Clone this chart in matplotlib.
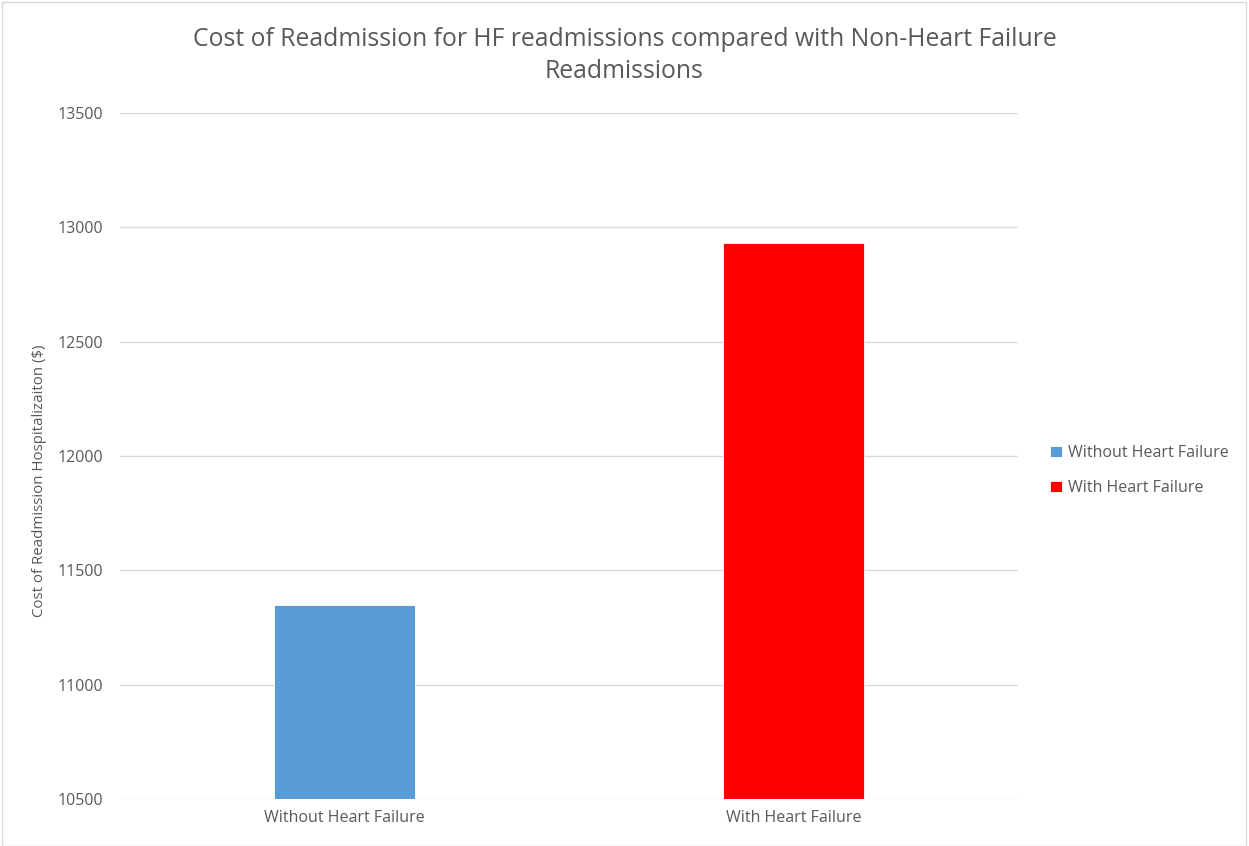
import matplotlib.pyplot as plt
from matplotlib.patches import Rectangle

# dados
categorias = ['Without Heart Failure', 'With Heart Failure']
custos = [11350, 12932]
cores = ['#5B9BD5', '#FF0000']
yticks = [10500, 11000, 11500, 12000, 12500, 13000, 13500]

plt.rcParams['font.family'] = ['Open Sans', 'DejaVu Sans']

fig = plt.figure(figsize=(12.49, 8.46), dpi=100)
ax = fig.add_axes([120/1249, 1-799/846, (1018-120)/1249, (799-113)/846])

x = list(range(len(categorias)))
barras = ax.bar(x, custos, width=0.315, color=cores, zorder=3,
                edgecolor='white', linewidth=0.6)

ax.set_xlim(-0.5, 1.5)
ax.set_ylim(10500, 13500)
ax.set_yticks(yticks)
ax.set_yticklabels([str(v) for v in yticks])
ax.set_xticks(x)
ax.set_xticklabels(categorias)
ax.tick_params(length=0, labelsize=11.5, labelcolor='#595959')
ax.tick_params(axis='y', pad=12)
ax.tick_params(axis='x', pad=8)
ax.grid(axis='y', color='#D9D9D9', linewidth=1, zorder=0)
for s in ax.spines.values():
    s.set_visible(False)

ax.set_ylabel('Cost of Readmission Hospitalizaiton ($)', fontsize=10.8,
              color='#595959')
ax.yaxis.set_label_coords(-0.081, 0.4636)

fig.text(0.5, 1-40/846, 'Cost of Readmission for HF readmissions compared with Non-Heart Failure',
         ha='center', va='center', fontsize=17.8, color='#595959')
fig.text(0.5, 1-72/846, 'Readmissions', ha='center', va='center', fontsize=17.8, color='#595959')

leg = ax.legend(barras, categorias, loc='center left', bbox_to_anchor=(1.02, 0.479),
                frameon=False, fontsize=11.5, handlelength=0.7, handleheight=0.7,
                handletextpad=0.4, labelspacing=1.18)
for t in leg.get_texts():
    t.set_color('#595959')

# moldura do grafico
fig.patches.append(Rectangle((2/1249, 0), 1244/1249, 1-2/846, transform=fig.transFigure,
                             fill=False, edgecolor='#D9D9D9', linewidth=1))

fig.savefig('out.png', dpi=100)
